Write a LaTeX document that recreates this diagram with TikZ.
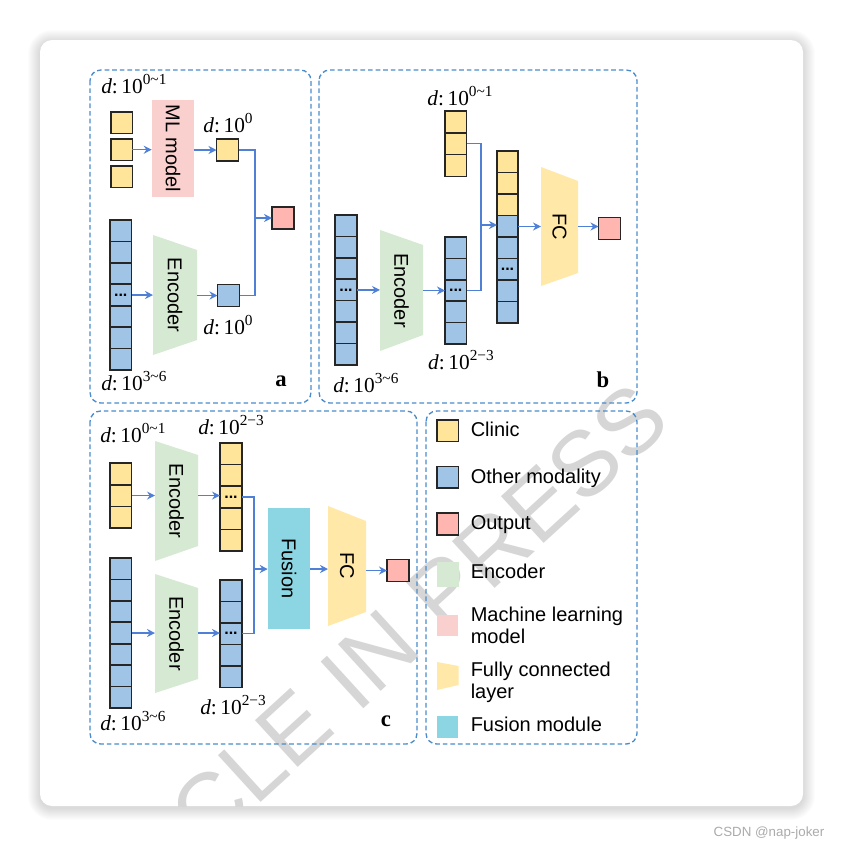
\documentclass[tikz,border=0pt]{standalone}
\usepackage{fontspec}
\setmainfont{Liberation Serif}
\setsansfont{Liberation Sans}
\usetikzlibrary{arrows.meta,calc}
\definecolor{clin}{RGB}{255,229,153}
\definecolor{oth}{RGB}{160,196,230}
\definecolor{outc}{RGB}{255,181,176}
\definecolor{mlc}{RGB}{250,208,206}
\definecolor{encc}{RGB}{214,233,210}
\definecolor{fcc}{RGB}{255,232,168}
\definecolor{fusc}{RGB}{140,213,226}
\definecolor{arr}{RGB}{80,128,214}
\definecolor{dashc}{RGB}{74,140,204}
\definecolor{wmark}{RGB}{214,214,214}
\newcommand\dlab[2]{\textit{d}:\,#1\raisebox{0.42em}{\fontsize{11.5}{12}\selectfont #2}}
\tikzset{
 cellbox/.style={draw=black!85, line width=1.2pt, inner sep=0, outer sep=0},
 cellline/.style={draw=black!85, line width=1.2pt},
 flow/.style={draw=arr, line width=0.9pt, -{Stealth[length=6pt,width=6pt,inset=2pt]}},
 link/.style={draw=arr, line width=0.9pt},
 panel/.style={draw=dashc, dash pattern=on 3.5pt off 2.2pt, line width=1pt, rounded corners=8pt},
 dlabel/.style={font=\fontsize{16}{18}\selectfont, inner sep=0},
 lbl/.style={font=\sffamily\fontsize{15}{17}\selectfont, inner sep=0},
 plet/.style={font=\fontsize{17}{17}\selectfont\bfseries, inner sep=0},
 ellips/.style={font=\sffamily\bfseries\fontsize{12}{12}\selectfont, inner sep=0},
}
% column of cells: name, x left, y top, width, cell height, n-1, fill
\newcommand\vcol[7]{%
 \fill[#7] (#2,#3) rectangle ++(#4,{#5*(#6+1)});
 \foreach \kk in {1,...,#6} { \draw[cellline] (#2,{#3+\kk*#5}) -- ++(#4,0); }
 \node[cellbox, anchor=north west, minimum width=#4*0.75pt, minimum height={#5*(#6+1)*0.75pt}] (#1) at (#2,#3) {};
}
% trapezoid: name, xl, ytop-left, ybot-left, xr, ytop-right, ybot-right, fill, text
\newcommand\trap[9]{%
 \fill[#8] (#2,#3) -- (#5,#6) -- (#5,#7) -- (#2,#4) -- cycle;
 \node[inner sep=0, outer sep=0, minimum width={(#5-#2)*0.75pt}, minimum height={(#4-#3)*0.75pt}] (#1) at ({(#2+#5)/2},{(#3+#4)/2}) {};
 \node[lbl, rotate=-90] (#1t) at (#1) {#9};
}
\begin{document}
\begin{tikzpicture}[x=0.75pt,y=-0.75pt]
\useasboundingbox (0,0) rectangle (843,847);
\fill[white] (0,0) rectangle (843,847);
% card shadow and card
\foreach \ii in {1,...,12} {
  \fill[black, opacity=0.013, rounded corners={(9+\ii*0.75)*1pt}] (40-\ii,40-\ii+2) rectangle (803+\ii,806+\ii+2);
}
\fill[white, rounded corners=9pt] (40,40) rectangle (803,806);
% watermark
\begin{scope}
 \clip[rounded corners=9pt] (40,40) rectangle (803,806);
 \node[text=wmark, font=\sffamily\fontsize{69}{69}\selectfont, rotate=42.4, inner sep=0] (wm) at (342,685) {ARTICLE IN PRESS};
\end{scope}

% ================= panel a
\draw[panel] (90,70) rectangle (311,403);
\node[dlabel, anchor=west] (la1) at (101,84) {\dlab{10}{0\textasciitilde1}};
\node[cellbox, fill=clin, minimum size=16.1pt, anchor=north west] (ya1) at (111,112) {};
\node[cellbox, fill=clin, minimum size=16.1pt, anchor=north west] (ya2) at (111,139) {};
\node[cellbox, fill=clin, minimum size=16.1pt, anchor=north west] (ya3) at (111,166) {};
\node[fill=mlc, minimum width=31.5pt, minimum height=72.75pt, inner sep=0] (ml) at (173,148.5) {};
\node[lbl, rotate=-90] (mlt) at (ml) {ML model};
\node[cellbox, fill=clin, minimum size=16.5pt] (yo) at (227.5,150) {};
\node[dlabel] (la2) at (228,123) {\dlab{10}{0}};
\node[cellbox, fill=outc, minimum size=16.5pt] (pa) at (283,218) {};
\vcol{ca}{110}{220}{21.5}{21.43}{6}{oth}
\node[ellips] (cad) at (120.75,295) {...};
\trap{ea}{153}{235}{355}{197}{250}{340}{encc}{Encoder}
\node[cellbox, fill=oth, minimum size=16.5pt] (bo) at (228.5,295.5) {};
\node[dlabel] (la3) at (228,325) {\dlab{10}{0}};
\node[dlabel, anchor=west] (la4) at (101,381) {\dlab{10}{3\textasciitilde6}};
\node[plet] (pla) at (281,381) {a};
\coordinate (ja) at (255,218);
\draw[flow] (ya2.east) -- (ya2.east -| ml.west);
\draw[flow] (ml.east |- yo.west) -- (yo.west);
\draw[flow] (ca.east) -- (ca.east -| ea.west);
\draw[flow] (ea.east |- bo.west) -- (bo.west);
\draw[link] (yo.east) -| (ja);
\draw[link] (bo.east) -| (ja);
\draw[flow] (ja) -- (pa.west);

% ================= panel b
\draw[panel] (319,70) rectangle (637,403);
\node[dlabel] (lb1) at (460,96) {\dlab{10}{0\textasciitilde1}};
\vcol{yb}{445}{111}{21.5}{21.8}{2}{clin}
\fill[clin] (497,151) rectangle (518,215.5);
\fill[oth] (497,215.5) rectangle (518,323);
\foreach \kk in {1,...,7} { \draw[cellline] (497,{151+\kk*21.5}) -- ++(21,0); }
\node[cellbox, minimum width=15.75pt, minimum height=129pt, anchor=north west] (cb) at (497,151) {};
\node[ellips] (cbd) at (507.5,269.25) {...};
\vcol{ib}{335}{215}{22}{21.4}{6}{oth}
\node[ellips] (ibd) at (346,290) {...};
\trap{eb}{380}{230}{351}{423}{245}{335}{encc}{Encoder}
\vcol{sb}{445}{237}{21.5}{21.4}{4}{oth}
\node[ellips] (sbd) at (455.75,290.5) {...};
\trap{fb}{541}{167}{286}{578}{181}{273}{fcc}{FC}
\node[cellbox, fill=outc, minimum size=16.5pt] (pb) at (609.5,228.5) {};
\coordinate (jb) at (481,225);
\draw[link] (yb.east) -| (jb);
\draw[link] (sb.east) -| (jb);
\draw[flow] (jb) -- (jb -| cb.west);
\draw[flow] (ib.east) -- (ib.east -| eb.west);
\draw[flow] (eb.east |- sb.west) -- (sb.west);
\draw[flow] (cb.east |- fb.west) -- (fb.west);
\draw[flow] (fb.east) -- (fb.east -| pb.west);
\node[dlabel] (lb2) at (461,360) {\dlab{10}{2−3}};
\node[dlabel, anchor=west] (lb3) at (333,383) {\dlab{10}{3\textasciitilde6}};
\node[plet] (plb) at (603,380) {b};

% ================= panel c
\draw[panel] (90,411) rectangle (417,744);
\node[dlabel, anchor=west] (lc1) at (100,433) {\dlab{10}{0\textasciitilde1}};
\node[dlabel, anchor=west] (lc2) at (198,425) {\dlab{10}{2−3}};
\vcol{yc}{110}{463}{21.5}{21.7}{2}{clin}
\trap{eca}{155}{441}{561}{198}{455}{546}{encc}{Encoder}
\vcol{ycb}{220}{443}{22}{21.6}{4}{clin}
\node[ellips] (ycbd) at (231,497) {...};
\vcol{bc}{110}{558}{21.5}{21.43}{6}{oth}
\trap{ecb}{155}{574}{693}{198}{588}{679}{encc}{Encoder}
\vcol{bcb}{220}{580}{22}{21.5}{4}{oth}
\node[ellips] (bcbd) at (231,633.75) {...};
\node[fill=fusc, minimum width=31.5pt, minimum height=90.75pt, inner sep=0] (fu) at (289,568.5) {};
\node[lbl, rotate=-90] (fut) at (fu) {Fusion};
\trap{fc}{328}{506}{626}{366}{521}{612}{fcc}{FC}
\node[cellbox, fill=outc, minimum size=16.5pt] (pc) at (398,570.5) {};
\coordinate (jc) at (254,569);
\draw[flow] (yc.east) -- (yc.east -| eca.west);
\draw[flow] (eca.east |- yc.east) -- (yc.east -| ycb.west);
\draw[flow] (bc.east) -- (bc.east -| ecb.west);
\draw[flow] (ecb.east |- bc.east) -- (bc.east -| bcb.west);
\draw[link] (ycb.east) -| (jc);
\draw[link] (bcb.east) -| (jc);
\draw[flow] (jc) -- (jc -| fu.west);
\draw[flow] (fu.east |- jc) -- (jc -| fc.west);
\draw[flow] (fc.east |- pc.west) -- (pc.west);
\node[dlabel, anchor=west] (lc3) at (200,705) {\dlab{10}{2−3}};
\node[dlabel, anchor=west] (lc4) at (100,721) {\dlab{10}{3\textasciitilde6}};
\node[plet] (plc) at (386,721) {c};

% ================= legend
\draw[panel] (426,411) rectangle (637,744);
\node[cellbox, fill=clin, minimum size=16.1pt] (lg1) at (447.7,430.6) {};
\node[cellbox, fill=oth, minimum size=16.1pt] (lg2) at (447.7,477.2) {};
\node[cellbox, fill=outc, minimum size=16.1pt] (lg3) at (447.7,524) {};
\node[fill=encc, minimum width=16.5pt, minimum height=18.75pt, inner sep=0] (lg4) at (447.7,574) {};
\node[fill=mlc, minimum size=16.1pt, inner sep=0] (lg5) at (447.7,625.5) {};
\fill[fcc] (437,662) -- (458.5,666) -- (458.5,685) -- (437,690) -- cycle;
\node[fill=fusc, minimum size=16.1pt, inner sep=0] (lg7) at (447.7,727) {};
\node[lbl, anchor=base west] (lt1) at (470.5,436.3) {Clinic};
\node[lbl, anchor=base west] (lt2) at (470.5,483) {Other modality};
\node[lbl, anchor=base west] (lt3) at (470.5,529.7) {Output};
\node[lbl, anchor=base west] (lt4) at (470.5,578) {Encoder};
\node[lbl, anchor=base west] (lt5a) at (470.5,621.3) {Machine learning};
\node[lbl, anchor=base west] (lt5b) at (470.5,643) {model};
\node[lbl, anchor=base west] (lt6a) at (470.5,676.3) {Fully connected};
\node[lbl, anchor=base west] (lt6b) at (470.5,698) {layer};
\node[lbl, anchor=base west] (lt7) at (470.5,731.3) {Fusion module};

% footer
\node[font=\sffamily\fontsize{10}{10}\selectfont, text=black!33, inner sep=0] (csdn) at (769,833) {CSDN @nap-joker};
\end{tikzpicture}
\end{document}
